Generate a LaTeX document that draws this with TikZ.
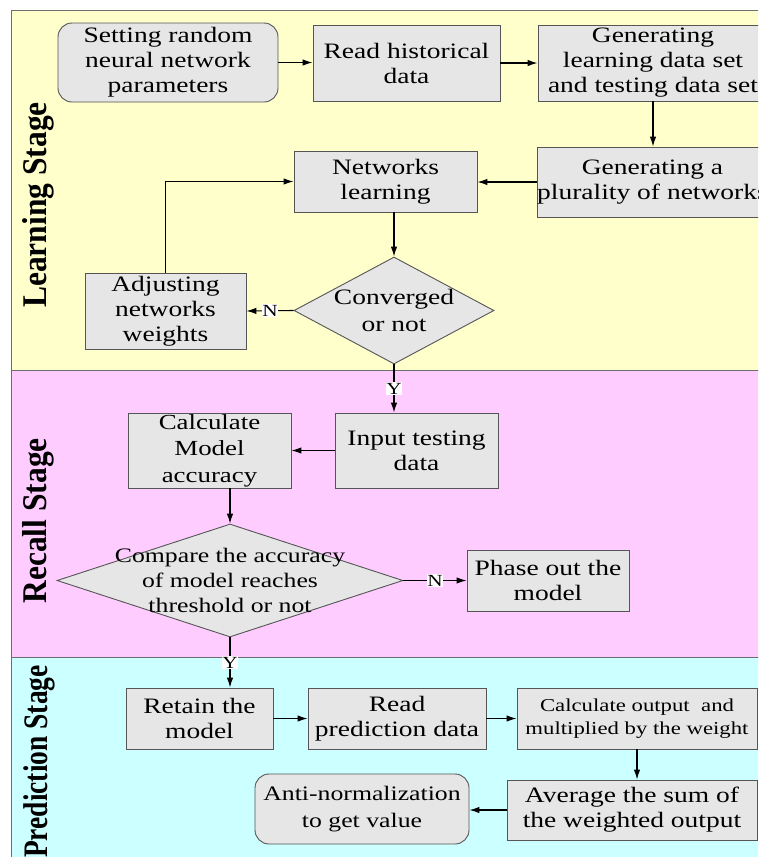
\documentclass[tikz,border=0pt]{standalone}
\usepackage{fontspec}
\setmainfont{Liberation Serif}
\newfontfamily\bxf{Liberation Serif}[FakeStretch=1.25]
\usetikzlibrary{shapes.geometric,arrows.meta}
\definecolor{learnbg}{HTML}{FFFFCC}
\definecolor{recallbg}{HTML}{FFCCFF}
\definecolor{predbg}{HTML}{CCFFFF}
\definecolor{boxfill}{HTML}{E6E6E6}
\definecolor{boxline}{HTML}{555555}
\definecolor{panelline}{HTML}{6E6E6E}
\newcommand{\dtext}[1]{\smash{\makebox[0pt]{\raisebox{-0.33em}{\begin{tabular}{@{}c@{}}#1\end{tabular}}}}}
\tikzset{
  stepbox/.style={draw=boxline, fill=boxfill, line width=0.9pt, inner sep=0pt, align=center,
    font=\bxf\fontsize{22}{25}\selectfont},
  roundbox/.style={stepbox, rounded corners=14pt},
  decision/.style={diamond, draw=boxline, fill=boxfill, line width=0.9pt, inner sep=0pt,
    font=\bxf\fontsize{22}{27}\selectfont},
  conn/.style={line width=1.1pt, -{Latex[length=10pt,width=6.5pt]}},
  yn/.style={fill=white, inner sep=0.8pt, font=\bxf\fontsize{17}{17}\selectfont},
  stagetitle/.style={rotate=90, anchor=east, inner sep=0pt, font=\bfseries\fontsize{31.5}{32}\selectfont},
  panel/.style={draw=panelline, line width=1pt}
}
\begin{document}
\begin{tikzpicture}[x=1pt,y=-1pt]
\useasboundingbox (0,0) rectangle (758,857);
\clip (0,0) rectangle (758,857);
\fill[white] (0,0) rectangle (758,857);
% panels
\draw[panel, fill=learnbg] (11,10) rectangle (780,370);
\draw[panel, fill=recallbg] (11,370) rectangle (780,657);
\draw[panel, fill=predbg] (11,657) rectangle (780,900);
% stage titles
\node[stagetitle] (tl) at (38,102) {\scalebox{1}[1.1]{Learning Stage}};
\node[stagetitle] (tr) at (38,438) {\scalebox{1}[1.1]{Recall Stage}};
\node[stagetitle, font=\bfseries\fontsize{27.5}{28}\selectfont] (tp) at (39,665) {\scalebox{1}[1.25]{Prediction Stage}};
% learning stage
\node[roundbox, minimum width=220pt, minimum height=79pt] (set) at (168,62.5) {Setting random\\neural network\\parameters};
\node[stepbox, minimum width=187pt, minimum height=76pt] (read) at (406.5,63) {Read historical\\data};
\node[stepbox, minimum width=230pt, minimum height=76pt] (gen) at (653,63) {Generating\\learning data set\\and testing data set};
\node[stepbox, minimum width=231pt, minimum height=70pt] (plur) at (652.5,182) {Generating a\\plurality of networks};
\node[stepbox, minimum width=183pt, minimum height=61pt] (learn) at (385.5,181.5) {Networks\\learning};
\node[decision, minimum width=200pt, minimum height=107pt] (conv) at (394,310.5) {\dtext{Converged\\or not}};
\node[stepbox, minimum width=161pt, minimum height=76pt] (adj) at (165.5,311) {Adjusting\\networks\\weights};
% recall stage
\node[stepbox, minimum width=163pt, minimum height=75pt] (input) at (416.5,450.5) {Input testing\\data};
\node[stepbox, minimum width=163pt, minimum height=75pt, font=\bxf\fontsize{21.5}{26.5}\selectfont] (calc) at (209.5,450.5) {Calculate\\Model\\accuracy};
\node[decision, minimum width=346pt, minimum height=113pt, font=\bxf\fontsize{20.6}{25}\selectfont] (cmp) at (230,580.5) {\dtext{Compare the accuracy\\of model reaches\\threshold or not}};
\node[stepbox, minimum width=162pt, minimum height=61pt] (phase) at (548,580.5) {Phase out the\\model};
% prediction stage
\node[stepbox, minimum width=147pt, minimum height=61pt] (retain) at (199.5,718.5) {Retain the\\model};
\node[stepbox, minimum width=178pt, minimum height=61pt] (rpred) at (397,718.5) {Read\\prediction data};
\node[stepbox, minimum width=240pt, minimum height=61pt, font=\bxf\fontsize{18.2}{23}\selectfont] (cout) at (637,718.5) {Calculate output~ and\\multiplied by the weight};
\node[stepbox, minimum width=250pt, minimum height=60pt] (avg) at (632,810) {Average the sum of\\the weighted output};
\node[roundbox, minimum width=214pt, minimum height=70pt, font=\bxf\fontsize{20.6}{27}\selectfont] (anti) at (362,809) {Anti-normalization\\to get value};
% connectors
\draw[conn] (set.east) -- (set.east -| read.west);
\draw[conn] (read.east) -- (read.east -| gen.west);
\draw[conn] (gen.south) -- (gen.south |- plur.north);
\draw[conn] (plur.west) -- (plur.west -| learn.east);
\draw[conn] (learn.south -| conv.north) -- (conv.north);
\draw[conn] (conv.west) -- (adj.east) node[yn, midway] {N};
\draw[conn] (adj.north) |- (learn.west);
\draw[conn] (conv.south) -- (conv.south |- input.north) node[yn, midway] {Y};
\draw[conn] (input.west) -- (calc.east);
\draw[conn] (calc.south -| cmp.north) -- (cmp.north);
\draw[conn] (cmp.east) -- (cmp.east -| phase.west) node[yn, midway] {N};
\draw[conn] (cmp.south) -- (cmp.south |- retain.north) node[yn, midway] {Y};
\draw[conn] (retain.east) -- (rpred.west);
\draw[conn] (rpred.east) -- (cout.west);
\draw[conn] (cout.south) -- (cout.south |- avg.north);
\draw[conn] (avg.west) -- (avg.west -| anti.east);
\end{tikzpicture}
\end{document}
